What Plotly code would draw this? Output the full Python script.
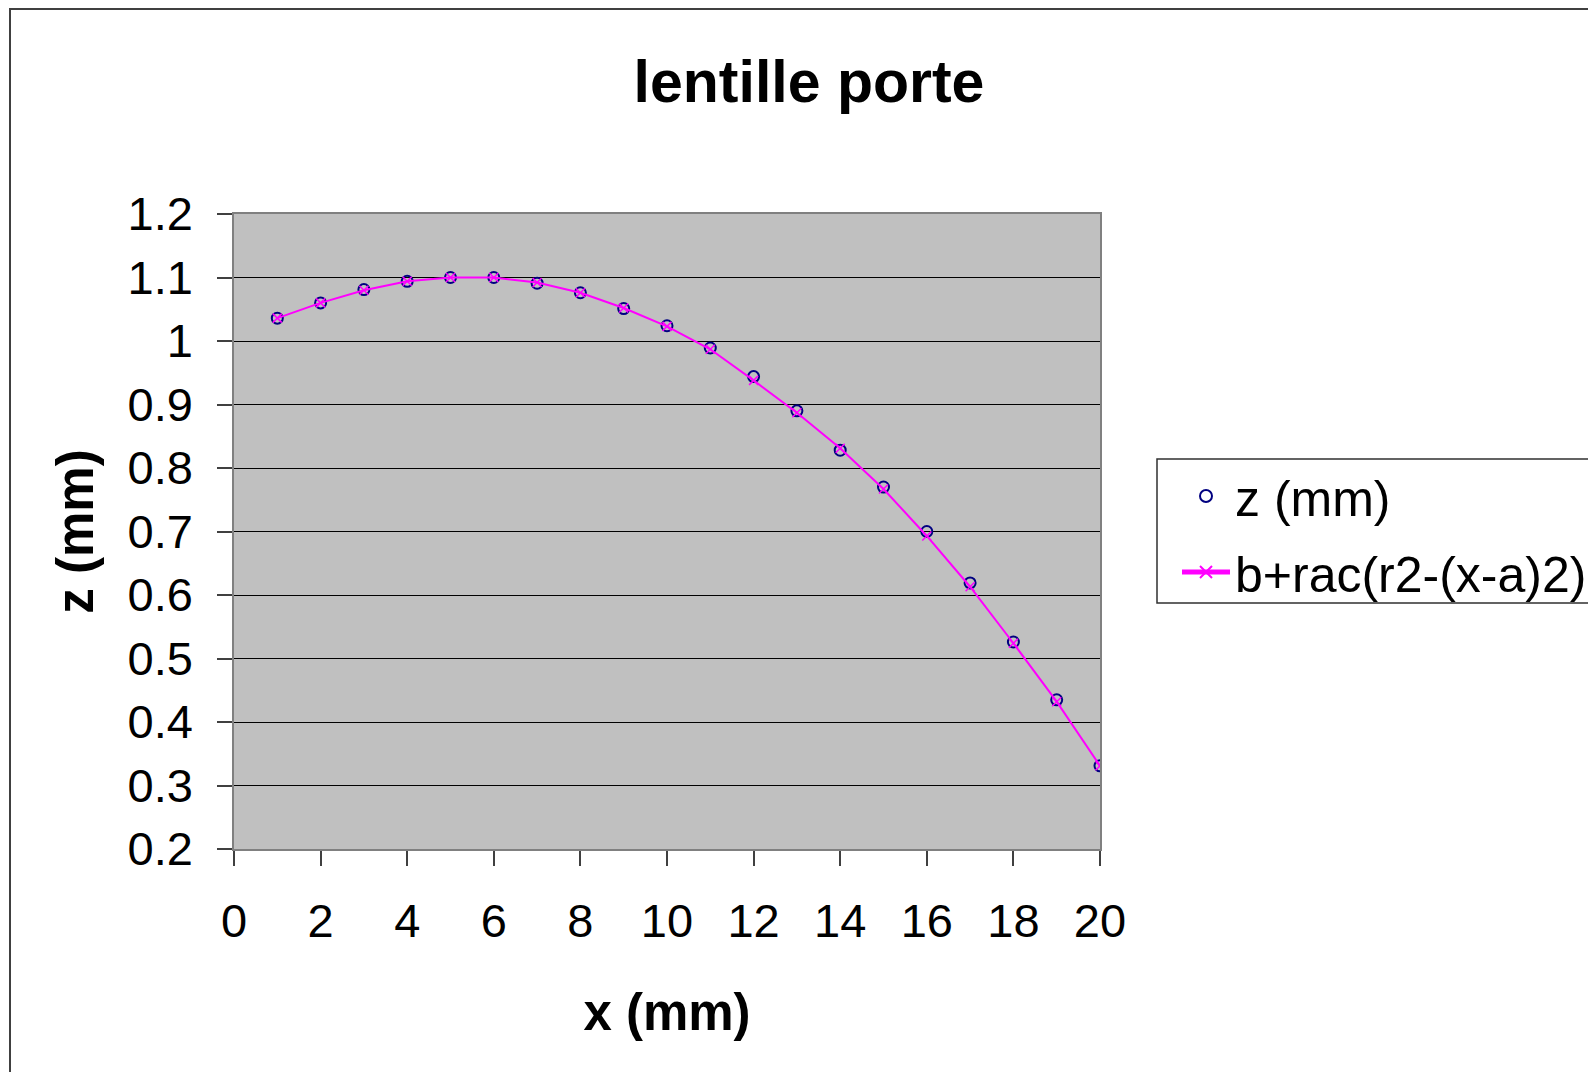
import plotly.graph_objects as go

# ---- data ----
x_vals = list(range(1, 21))
z_mm = [1.036, 1.060, 1.081, 1.094, 1.100, 1.100, 1.091, 1.076, 1.051, 1.024,
        0.989, 0.944, 0.890, 0.828, 0.770, 0.700, 0.619, 0.526, 0.435, 0.331]
fit_vals = [1.036, 1.060, 1.080, 1.094, 1.100, 1.100, 1.092, 1.076, 1.052, 1.023,
            0.987, 0.938, 0.887, 0.831, 0.767, 0.693, 0.613, 0.524, 0.432, 0.331]
y_tickvals = [0.2, 0.3, 0.4, 0.5, 0.6, 0.7, 0.8, 0.9, 1.0, 1.1, 1.2]
y_ticktext = ["0.2", "0.3", "0.4", "0.5", "0.6", "0.7", "0.8", "0.9", "1", "1.1", "1.2"]
x_tickvals = [0, 2, 4, 6, 8, 10, 12, 14, 16, 18, 20]
x_ticktext = ["0", "2", "4", "6", "8", "10", "12", "14", "16", "18", "20"]

OFF = 8  # page body margin
W, H = 1596 - OFF, 1072 - OFF
L, R, T, B = 234 - OFF, 1100 - OFF, 214 - OFF, 849 - OFF  # plot area in px
pw, ph = R - L, B - T


def px_x(p):
    return (p - OFF - L) / pw


def px_y(p):
    return (B - (p - OFF)) / ph


FONT = "Liberation Sans, Arial, sans-serif"

fig = go.Figure()
fig.add_trace(go.Scatter(
    x=x_vals, y=z_mm, mode="markers", name="z (mm)", legendgroup="a",
    marker=dict(symbol="circle-open", size=11, color="#000080",
                line=dict(width=2, color="#000080")),
))
fig.add_trace(go.Scatter(
    x=x_vals, y=fit_vals, mode="lines+markers", name="b+rac(r2-(x-a)2)", legendgroup="b",
    line=dict(color="#FF00FF", width=2),
    marker=dict(symbol="x-thin", size=9, color="#FF00FF",
                line=dict(width=1.5, color="#FF00FF")),
))

fig.update_layout(
    width=W, height=H,
    margin=dict(l=L, r=W - R, t=T, b=H - B, pad=0, autoexpand=False),
    paper_bgcolor="white", plot_bgcolor="#C0C0C0",
    font=dict(family=FONT, size=47, color="black"),
    title=dict(text="<b>lentille porte</b>", font=dict(size=59, family=FONT, color="black"),
               x=(809 - OFF) / W, xanchor="center", y=1 - (81 - OFF) / H, yanchor="middle"),
    showlegend=True,
    legend=dict(x=px_x(1177), y=px_y(457), xanchor="left", yanchor="top",
                bgcolor="rgba(0,0,0,0)", borderwidth=0, itemwidth=48,
                font=dict(size=50, family=FONT, color="black"),
                tracegroupgap=8, itemsizing="constant"),
    shapes=[
        # legend box
        dict(type="rect", xref="paper", yref="paper",
             x0=px_x(1157), x1=px_x(1620), y0=px_y(603), y1=px_y(459),
             line=dict(color="#303030", width=1.5), fillcolor="rgba(0,0,0,0)", layer="above"),
        # outer chart border
        dict(type="rect", xref="paper", yref="paper",
             x0=px_x(10), x1=px_x(1620), y0=px_y(1100), y1=px_y(9),
             line=dict(color="#404040", width=2), fillcolor="rgba(0,0,0,0)", layer="above"),
    ],
)

fig.update_xaxes(
    range=[0, 20], tickvals=x_tickvals, ticktext=x_ticktext,
    showgrid=False, zeroline=False,
    showline=True, linecolor="#808080", linewidth=1.5, mirror=True,
    ticks="outside", ticklen=15, tickcolor="#404040", tickwidth=1.5,
    ticklabelstandoff=15,
    tickfont=dict(size=47, family=FONT, color="black"),
    title=dict(text="<b>x (mm)</b>", font=dict(size=51, family=FONT, color="black"), standoff=48),
)
fig.update_yaxes(
    range=[0.2, 1.2], tickvals=y_tickvals, ticktext=y_ticktext,
    showgrid=True, gridcolor="black", gridwidth=1, zeroline=False,
    showline=True, linecolor="#808080", linewidth=1.5, mirror=True,
    ticks="outside", ticklen=15, tickcolor="#404040", tickwidth=1.5,
    ticklabelstandoff=15,
    tickfont=dict(size=47, family=FONT, color="black"),
    title=dict(text="<b>z (mm)</b>", font=dict(size=51, family=FONT, color="black"), standoff=18),
)

fig.write_html("out.html")
